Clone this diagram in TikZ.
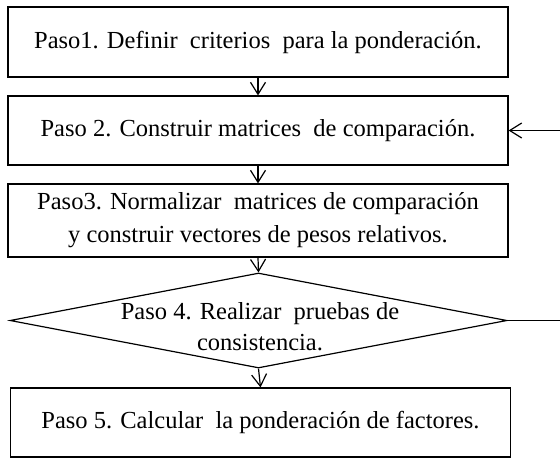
\documentclass[tikz,border=0pt]{standalone}
\usepackage{fontspec}
\setmainfont{Liberation Serif}
\usetikzlibrary{arrows.meta,shapes.geometric}
\begin{document}
\begin{tikzpicture}[x = 1pt,y = -1pt,line width = 1.2pt,
        every node/.style = {font = {\fontsize{24.5}{33}\selectfont}},
        paso/.style = {draw,minimum width = 500pt,inner sep = 0pt},
        decision/.style = {draw,diamond,inner sep = 0pt,minimum width = 497pt,minimum height = 95pt},
        flecha/.style = {-{Straight Barb[length = 12pt,width = 15pt,line width = 1.2pt]}}]
        \useasboundingbox (0,0) rectangle (560,459);
        \node[paso,minimum height = 70pt] (p1) at (258,42) {Paso1. Definir\ \ criterios\ \ para la ponderación.};
        \node[paso,minimum height = 69pt] (p2) at (258,130.5) {Paso 2. Construir matrices\ \ de comparación.};
        \node[paso,minimum height = 73pt,align = center] (p3) at (258,220.5) {Paso3. Normalizar\ \ matrices de comparación\\ y construir vectores de pesos relativos.};
        \node[decision] (p4) at (258.5,320.5) {};
        \node[align = center,font = {\fontsize{24.5}{31}\selectfont}] (p4t) at (260,327) {Paso 4. Realizar\ \ pruebas de\\consistencia.};
        \node[paso,minimum height = 69pt] (p5) at (260.5,422.5) {Paso 5. Calcular\ \ la ponderación de factores.};

        \coordinate (retorno1) at (560,320.5);
        \coordinate (retorno2) at (560,130.5);

        \draw[flecha] (p1.south) -- (p2.north);
        \draw[flecha] (p2.south) -- (p3.north);
        \draw[flecha] (p3.south) -- (p4.north);
        \draw[flecha] (p4.south) -- (p5.north);
        \draw (p4.east) -- (retorno1);
        \draw[flecha] (retorno2) -- (p2.east);
    \end{tikzpicture}
\end{document}
